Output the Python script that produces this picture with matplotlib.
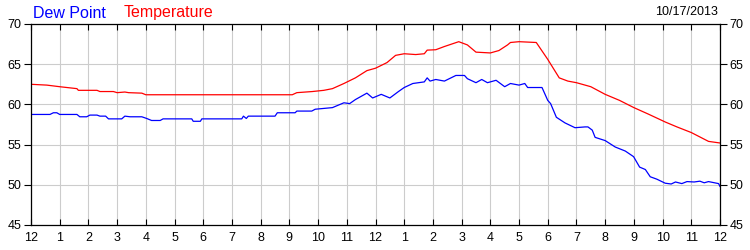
import numpy as np
import matplotlib
matplotlib.use("Agg")
import matplotlib.pyplot as plt

plt.rcParams['font.family'] = ['Liberation Sans', 'DejaVu Sans']

# hours since midnight
temp_hours = [0, 0.55, 1.0, 1.6, 1.65, 2.3, 2.4, 2.87, 3.0, 3.27, 3.4, 3.86, 4.0,
              9.1, 9.26, 9.8, 10.2, 10.5, 10.9, 11.3, 11.7, 12.0, 12.4, 12.7, 13.0,
              13.4, 13.7, 13.8, 14.1, 14.4, 14.9, 15.2, 15.5, 16.0, 16.3, 16.6, 16.7,
              17.0, 17.6, 18.0, 18.4, 18.7, 19.0, 19.5, 20.0, 20.5, 21.0, 21.5, 22.1,
              22.5, 23.0, 23.6, 24.0]
temp_vals = [62.5, 62.4, 62.2, 61.96, 61.75, 61.75, 61.6, 61.6, 61.46, 61.54, 61.46, 61.4, 61.2,
             61.2, 61.46, 61.6, 61.75, 61.96, 62.6, 63.3, 64.2, 64.5, 65.2, 66.1, 66.3,
             66.2, 66.3, 66.75, 66.8, 67.2, 67.8, 67.4, 66.5, 66.4, 66.7, 67.4, 67.7,
             67.8, 67.7, 65.6, 63.3, 62.9, 62.7, 62.2, 61.25, 60.5, 59.6, 58.8, 57.8,
             57.2, 56.5, 55.4, 55.2]

dew_hours = [0, 0.66, 0.78, 0.9, 1.0, 1.6, 1.7, 1.94, 2.05, 2.3, 2.4, 2.6, 2.7, 3.16,
             3.27, 3.45, 3.86, 4.03, 4.2, 4.5, 4.6, 5.6, 5.65, 5.9, 5.95, 7.34, 7.4,
             7.5, 7.57, 8.5, 8.58, 9.2, 9.26, 9.78, 9.9, 10.5, 10.9, 11.1, 11.3, 11.7,
             11.9, 12.2, 12.5, 12.8, 13.0, 13.3, 13.7, 13.8, 13.9, 14.1, 14.4, 14.8,
             15.1, 15.2, 15.5, 15.7, 15.9, 16.2, 16.5, 16.7, 17.0, 17.2, 17.3, 17.8,
             18.0, 18.1, 18.3, 18.6, 18.95, 19.3, 19.4, 19.55, 19.65, 20.0, 20.35,
             20.7, 20.99, 21.2, 21.4, 21.57, 21.8, 22.09, 22.3, 22.45, 22.67, 22.85,
             23.1, 23.3, 23.45, 23.6, 23.95, 24.0]
dew_vals = [58.75, 58.75, 58.96, 58.96, 58.75, 58.75, 58.46, 58.46, 58.67, 58.67, 58.54, 58.54, 58.2, 58.2,
            58.54, 58.46, 58.46, 58.25, 58.0, 58.0, 58.2, 58.2, 57.9, 57.9, 58.2, 58.2, 58.54,
            58.25, 58.54, 58.54, 58.96, 58.96, 59.17, 59.17, 59.4, 59.6, 60.2, 60.1, 60.6, 61.4,
            60.8, 61.25, 60.8, 61.6, 62.1, 62.6, 62.8, 63.3, 62.9, 63.1, 62.9, 63.6,
            63.6, 63.2, 62.7, 63.1, 62.7, 63.0, 62.2, 62.6, 62.4, 62.6, 62.1, 62.1,
            60.5, 60.1, 58.4, 57.7, 57.1, 57.2, 57.2, 56.8, 55.9, 55.5, 54.7,
            54.2, 53.5, 52.2, 51.9, 51.0, 50.7, 50.2, 50.1, 50.35, 50.15, 50.4,
            50.35, 50.45, 50.25, 50.4, 50.15, 49.8]

tick_pos = list(range(25))
tick_labels = ['12'] + [str(h) for h in range(1, 12)] + ['12'] + [str(h) for h in range(1, 12)] + ['12']
y_ticks = [45, 50, 55, 60, 65, 70]

fig = plt.figure(figsize=(7.5, 2.5), dpi=100)
ax = fig.add_axes([31 / 750, 25 / 250, 689 / 750, 201 / 250])

ax.plot(temp_hours, temp_vals, color='#ff0000', lw=0.9)
ax.plot(dew_hours, dew_vals, color='#0000ff', lw=0.9)

ax.set_xlim(0, 24)
ax.set_ylim(45, 70)
ax.set_xticks(tick_pos)
ax.set_xticklabels(tick_labels)
ax.set_yticks(y_ticks)
ax.grid(True, color='#cccccc', lw=0.8)
ax.set_axisbelow(True)

ax.tick_params(axis='x', direction='in', top=True, length=4, width=0.8, labelsize=9, pad=5, color='black')
ax.tick_params(axis='y', direction='out', right=True, labelright=True, length=5, width=0.8, labelsize=9, pad=2)
for s in ax.spines.values():
    s.set_color('black')
    s.set_linewidth(0.9)

fig.text(33 / 750, 1 - 13 / 250, 'Dew Point', color='#0000ff', fontsize=11.5, va='center')
fig.text(124 / 750, 1 - 13 / 250, 'Temperature', color='#ff0000', fontsize=11.5, va='center')
fig.text(718 / 750, 1 - 12 / 250, '10/17/2013', color='black', fontsize=9, va='center', ha='right')

fig.savefig('out.png', dpi=100)
